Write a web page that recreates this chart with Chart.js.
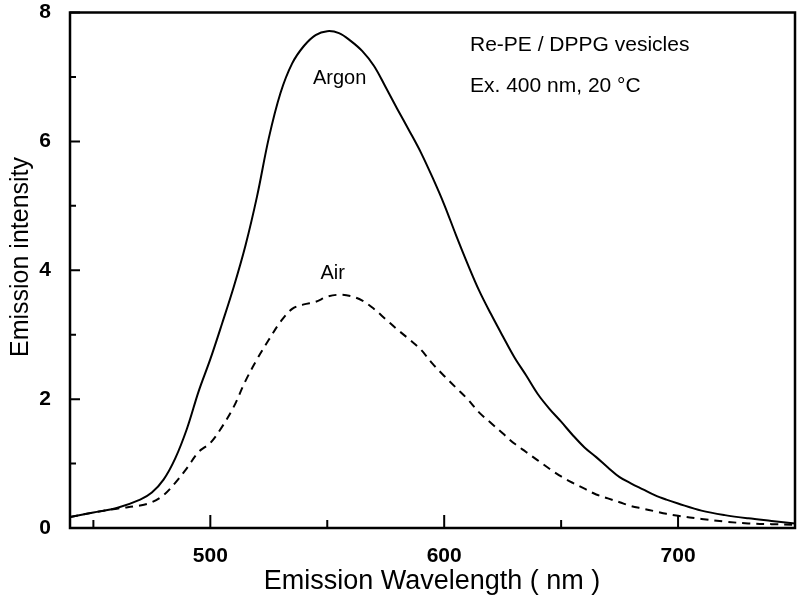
<!DOCTYPE html>
<html lang="en">
<head>
    <meta charset="UTF-8">
    <title>Emission spectra</title>
    <script src="https://cdn.jsdelivr.net/npm/chart.js"></script>
    <style>
        html, body { margin: 0; padding: 0; background: #fff; }
        #wrap { width: 800px; height: 608px; }
    </style>
</head>
<body>
    <div id="wrap"><canvas id="grafico" width="800" height="608"></canvas></div>
<script>
    // wavelengths (nm)
    const wavelengths = [440, 450, 460, 470, 475, 480, 485, 490, 495, 500, 505, 510, 515, 520, 525, 530, 535, 540, 545, 550,
        555, 560, 565, 570, 575, 580, 585, 590, 595, 600, 605, 610, 615, 620, 625, 630, 635, 640, 645, 650,
        655, 660, 665, 670, 675, 680, 685, 690, 695, 700, 710, 720, 730, 740, 750];

    // solid curve (under argon)
    const argon = [0.17, 0.24, 0.31, 0.44, 0.55, 0.75, 1.08, 1.54, 2.12, 2.62, 3.17, 3.74, 4.38, 5.15, 6.05, 6.75, 7.21, 7.48, 7.65, 7.71,
        7.68, 7.56, 7.40, 7.17, 6.84, 6.50, 6.17, 5.83, 5.44, 5.02, 4.55, 4.10, 3.68, 3.32, 2.98, 2.65, 2.37, 2.08, 1.85, 1.65,
        1.44, 1.25, 1.10, 0.94, 0.79, 0.69, 0.60, 0.51, 0.44, 0.38, 0.27, 0.20, 0.15, 0.11, 0.07];

    // dashed curve (under air)
    const air = [0.17, 0.24, 0.30, 0.35, 0.40, 0.51, 0.70, 0.93, 1.18, 1.32, 1.57, 1.88, 2.28, 2.62, 2.92, 3.20, 3.40, 3.47, 3.51, 3.59,
        3.62, 3.60, 3.53, 3.40, 3.24, 3.08, 2.93, 2.77, 2.55, 2.36, 2.18, 2.00, 1.79, 1.63, 1.47, 1.31, 1.18, 1.05, 0.92, 0.80,
        0.70, 0.61, 0.52, 0.46, 0.40, 0.34, 0.30, 0.26, 0.22, 0.19, 0.14, 0.10, 0.07, 0.06, 0.05];

    const xMajor = [500, 600, 700];
    const xMinor = [450, 550, 650, 750];
    const yMajor = [0, 2, 4, 6, 8];
    const yMinor = [1, 3, 5, 7];

    const fonte = "Arial, 'Liberation Sans', Helvetica, sans-serif";

    function pontos(ys) {
        return wavelengths.map((w, i) => ({ x: w, y: ys[i] }));
    }

    // frame, inward ticks, axis titles and the text labels
    const moldura = {
        id: 'moldura',
        afterDraw(chart) {
            const ctx = chart.ctx;
            const a = chart.chartArea;
            const sx = chart.scales.x;
            const sy = chart.scales.y;
            ctx.save();
            ctx.strokeStyle = '#000';
            ctx.lineWidth = 2.5;
            ctx.strokeRect(a.left, a.top, a.right - a.left, a.bottom - a.top);

            ctx.lineWidth = 2;
            ctx.beginPath();
            xMajor.forEach(v => { const p = sx.getPixelForValue(v); ctx.moveTo(p, a.bottom); ctx.lineTo(p, a.bottom - 13); });
            xMinor.forEach(v => { const p = sx.getPixelForValue(v); ctx.moveTo(p, a.bottom); ctx.lineTo(p, a.bottom - 8); });
            yMajor.forEach(v => { const p = sy.getPixelForValue(v); ctx.moveTo(a.left, p); ctx.lineTo(a.left + 10, p); });
            yMinor.forEach(v => { const p = sy.getPixelForValue(v); ctx.moveTo(a.left, p); ctx.lineTo(a.left + 6, p); });
            ctx.stroke();

            ctx.fillStyle = '#000';
            ctx.textAlign = 'center';
            ctx.textBaseline = 'middle';
            ctx.font = '20px ' + fonte;
            ctx.fillText('Argon', sx.getPixelForValue(555.3), sy.getPixelForValue(6.98));
            ctx.fillText('Air', sx.getPixelForValue(552.3), sy.getPixelForValue(3.95));

            // axis titles
            ctx.font = '27px ' + fonte;
            ctx.fillText('Emission Wavelength ( nm )', 432, 582);
            ctx.save();
            ctx.translate(21, 257);
            ctx.rotate(-Math.PI / 2);
            ctx.font = '25px ' + fonte;
            ctx.fillText('Emission intensity', 0, 0);
            ctx.restore();

            ctx.textAlign = 'left';
            ctx.font = '21px ' + fonte;
            ctx.fillText('Re-PE / DPPG vesicles', 470, 45);
            ctx.fillText('Ex. 400 nm, 20 \u00B0C', 470, 86);
            ctx.restore();
        }
    };

    const ctx = document.getElementById('grafico').getContext('2d');
    new Chart(ctx, {
        type: 'line',
        data: {
            datasets: [
                {
                    label: 'Argon',
                    data: pontos(argon),
                    borderColor: '#000',
                    borderWidth: 2,
                    pointRadius: 0,
                    tension: 0.35
                },
                {
                    label: 'Air',
                    data: pontos(air),
                    borderColor: '#000',
                    borderWidth: 2,
                    borderDash: [8, 6],
                    pointRadius: 0,
                    tension: 0.35
                }
            ]
        },
        options: {
            responsive: false,
            animation: false,
            layout: { padding: { left: 0, right: 5, top: 0, bottom: 0 } },
            plugins: { legend: { display: false }, tooltip: { enabled: false } },
            scales: {
                x: {
                    type: 'linear',
                    min: 440,
                    max: 750,
                    afterFit(s) { s.height = 80; s.paddingLeft = 0; s.paddingRight = 0; },
                    afterBuildTicks(s) { s.ticks = xMajor.map(v => ({ value: v })); },
                    grid: { display: false, drawTicks: false },
                    border: { display: false },
                    ticks: { color: '#000', padding: 16, font: { family: fonte, size: 21, weight: 'bold' } }
                },
                y: {
                    min: 0,
                    max: 8,
                    afterFit(s) { s.width = 70; s.paddingTop = 12.5; s.paddingBottom = 0; },
                    afterBuildTicks(s) { s.ticks = yMajor.map(v => ({ value: v })); },
                    grid: { display: false, drawTicks: false },
                    border: { display: false },
                    ticks: { color: '#000', padding: 19, font: { family: fonte, size: 21, weight: 'bold' } }
                }
            }
        },
        plugins: [moldura]
    });
</script>
</body>
</html>
